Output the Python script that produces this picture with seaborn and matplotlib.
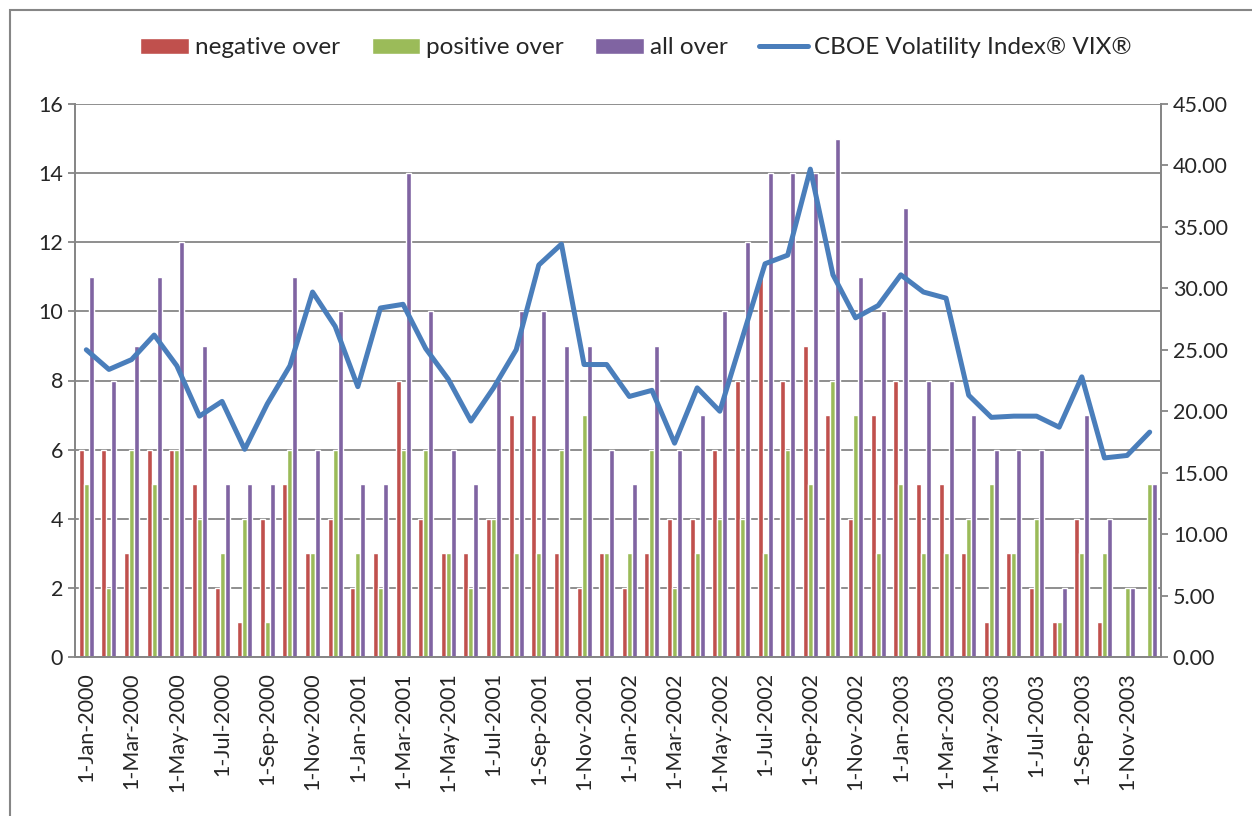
import numpy as np
import pandas as pd
import matplotlib
matplotlib.use('Agg')
import matplotlib.pyplot as plt
import seaborn as sns
from matplotlib.patches import Rectangle
from matplotlib.ticker import FormatStrFormatter

sns.set_style('white')
plt.rcParams['font.family'] = ['Lato', 'DejaVu Sans']

# monthly data, Jan 2000 - Dec 2003
months = pd.date_range('2000-01-01', periods=48, freq='MS')
month_labels = [f'{d.day}-{d.strftime("%b")}-{d.year}' for d in months]

negative_over = [6, 6, 3, 6, 6, 5, 2, 1, 4, 5, 3, 4,
                 2, 3, 8, 4, 3, 3, 4, 7, 7, 3, 2, 3,
                 2, 3, 4, 4, 6, 8, 11, 8, 9, 7, 4, 7,
                 8, 5, 5, 3, 1, 3, 2, 1, 4, 1, 0, 0]
positive_over = [5, 2, 6, 5, 6, 4, 3, 4, 1, 6, 3, 6,
                 3, 2, 6, 6, 3, 2, 4, 3, 3, 6, 7, 3,
                 3, 6, 2, 3, 4, 4, 3, 6, 5, 8, 7, 3,
                 5, 3, 3, 4, 5, 3, 4, 1, 3, 3, 2, 5]
all_over = [11, 8, 9, 11, 12, 9, 5, 5, 5, 11, 6, 10,
            5, 5, 14, 10, 6, 5, 8, 10, 10, 9, 9, 6,
            5, 9, 6, 7, 10, 12, 14, 14, 14, 15, 11, 10,
            13, 8, 8, 7, 6, 6, 6, 2, 7, 4, 2, 5]
vix = [25.0, 23.4, 24.2, 26.2, 23.7, 19.6, 20.8, 16.9, 20.6, 23.7, 29.7, 26.9,
       22.0, 28.4, 28.7, 25.1, 22.6, 19.2, 21.9, 25.0, 31.9, 33.6, 23.8, 23.8,
       21.2, 21.7, 17.4, 21.9, 20.0, 26.0, 32.0, 32.7, 39.7, 31.1, 27.6, 28.6,
       31.1, 29.7, 29.2, 21.3, 19.5, 19.6, 19.6, 18.7, 22.8, 16.2, 16.4, 18.3]

series_names = ['negative over', 'positive over', 'all over']
bar_colors = ['#C0504D', '#9BBB59', '#8064A2']
line_color = '#4A7EBB'
grid_color = '#868686'

df = pd.DataFrame({
    'month': month_labels * 3,
    'series': np.repeat(series_names, 48),
    'value': negative_over + positive_over + all_over,
})

fig = plt.figure(figsize=(12.52, 8.16), dpi=100)
ax = fig.add_axes([75 / 1252, 1 - 657 / 816, (1161 - 75) / 1252, (657 - 104) / 816])

sns.barplot(data=df, x='month', y='value', hue='series', palette=bar_colors,
            width=0.66, gap=0, saturation=1, ax=ax)
ax.get_legend().remove()

ax.set_xlim(-0.5, 47.5)
ax.set_ylim(0, 16)
ax.set_yticks(range(0, 17, 2))
ax.set_axisbelow(True)
ax.yaxis.grid(True, color=grid_color, lw=1.3)
ax.set_xlabel('')
ax.set_ylabel('')

ax.set_xticks(range(0, 48, 2))
ax.set_xticklabels(month_labels[::2], rotation=90, fontsize=15.5)
ax.set_xticks(np.arange(-0.5, 48, 2), minor=True)
ax.tick_params(axis='x', which='major', length=0, pad=11)
ax.tick_params(axis='x', which='minor', length=5, color=grid_color, width=1.3)
ax.tick_params(axis='y', labelsize=15.5, length=5, color=grid_color, width=1.3, left=True)

ax2 = ax.twinx()
sns.lineplot(x=np.arange(48), y=vix, ax=ax2, color=line_color, lw=3.6,
             solid_joinstyle='round', solid_capstyle='round', label='CBOE Volatility Index® VIX®')
ax2.get_legend().remove()
ax2.set_ylim(0, 45)
ax2.set_yticks(np.arange(0, 46, 5))
ax2.yaxis.set_major_formatter(FormatStrFormatter('%.2f'))
ax2.tick_params(axis='y', labelsize=15.5, length=5, color=grid_color, width=1.3, right=True)

for a in (ax, ax2):
    a.spines['top'].set_visible(False)
    for s in ('left', 'right', 'bottom'):
        a.spines[s].set_color(grid_color)
        a.spines[s].set_linewidth(1.3)

h1, l1 = ax.get_legend_handles_labels()
h2, l2 = ax2.get_legend_handles_labels()
fig.legend(h1 + h2, l1 + l2, loc='center', bbox_to_anchor=(636 / 1252, 1 - 48 / 816),
           ncol=4, frameon=False, fontsize=17.5, handlelength=2.0, handleheight=0.6,
           columnspacing=1.3, handletextpad=0.25)

# chart area border
fig.add_artist(Rectangle((10 / 1252, -0.1), 1.2, 1.1 - 10 / 816, transform=fig.transFigure,
                         fill=False, edgecolor=grid_color, lw=1.5))

fig.savefig('out.png', dpi=100)
